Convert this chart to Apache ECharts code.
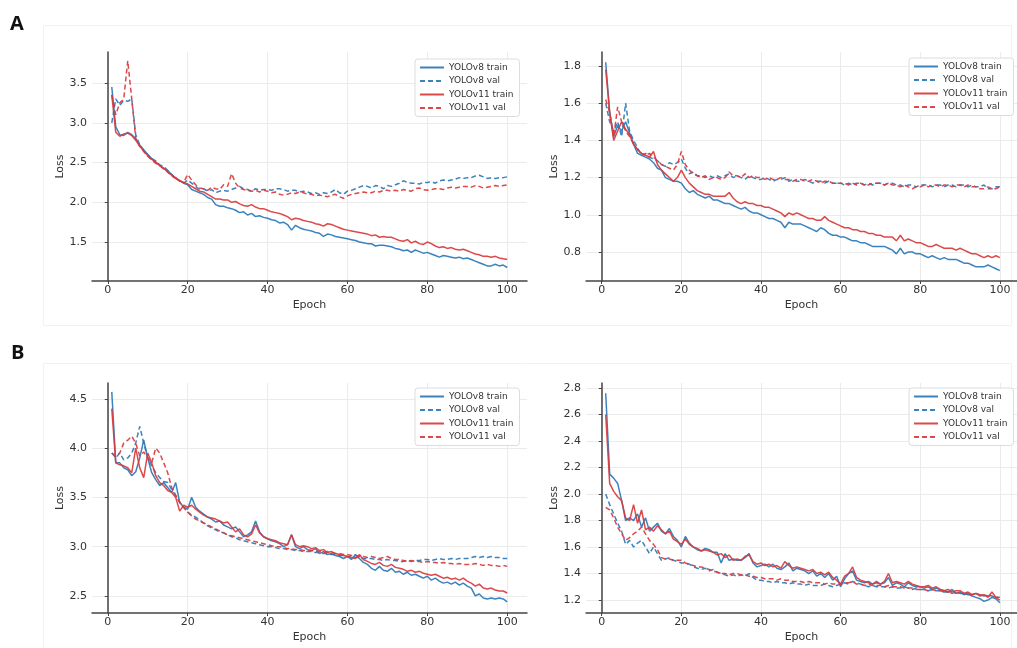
<!DOCTYPE html>
<html><head><meta charset="utf-8">
<script src="https://cdn.jsdelivr.net/npm/echarts@6/dist/echarts.min.js"></script>
<style>html,body{margin:0;padding:0;background:#fff}#c{width:1017px;height:648px}</style>
</head><body><div id="c"></div>
<script>
// ---------- data ----------
const epochs = Array.from({length: 100}, (_, i) => i + 1);
const seriesNames = ['YOLOv8 train', 'YOLOv8 val', 'YOLOv11 train', 'YOLOv11 val'];
const panelLabels = ['A', 'B'];
const xTickLabels = [0, 20, 40, 60, 80, 100];
const yTicksAL = [1.5, 2.0, 2.5, 3.0, 3.5];
const yTicksAR = [0.8, 1.0, 1.2, 1.4, 1.6, 1.8];
const yTicksBL = [2.5, 3.0, 3.5, 4.0, 4.5];
const yTicksBR = [1.2, 1.4, 1.6, 1.8, 2.0, 2.2, 2.4, 2.6, 2.8];

// Panel A, left
const aL_v8Train = [3.45,2.95,2.85,2.84,2.88,2.85,2.80,2.72,2.66,2.60,
2.55,2.50,2.47,2.42,2.40,2.35,2.30,2.27,2.24,2.22,
2.16,2.14,2.12,2.10,2.06,2.04,1.97,1.95,1.95,1.93,
1.92,1.90,1.87,1.88,1.84,1.86,1.82,1.83,1.81,1.80,
1.78,1.77,1.74,1.75,1.72,1.65,1.71,1.68,1.66,1.65,
1.64,1.62,1.61,1.57,1.60,1.59,1.57,1.56,1.55,1.54,
1.53,1.52,1.50,1.49,1.48,1.48,1.45,1.46,1.46,1.45,
1.44,1.42,1.41,1.39,1.40,1.37,1.40,1.38,1.36,1.37,
1.35,1.33,1.31,1.33,1.32,1.31,1.30,1.31,1.29,1.30,
1.28,1.26,1.24,1.22,1.20,1.20,1.22,1.20,1.21,1.18];
const aL_v8Val = [3.00,3.30,3.22,3.28,3.27,3.30,2.85,2.72,2.65,2.60,
2.55,2.52,2.47,2.45,2.40,2.35,2.30,2.27,2.24,2.28,
2.24,2.20,2.16,2.17,2.14,2.16,2.12,2.14,2.15,2.14,
2.16,2.18,2.20,2.17,2.16,2.14,2.17,2.15,2.16,2.16,
2.15,2.17,2.17,2.16,2.14,2.15,2.15,2.13,2.14,2.13,
2.11,2.12,2.10,2.12,2.11,2.13,2.16,2.12,2.10,2.14,
2.15,2.17,2.19,2.21,2.20,2.18,2.21,2.20,2.17,2.21,
2.20,2.22,2.24,2.27,2.25,2.24,2.24,2.23,2.25,2.25,
2.26,2.24,2.27,2.28,2.27,2.28,2.29,2.31,2.30,2.31,
2.31,2.33,2.34,2.32,2.30,2.31,2.30,2.31,2.31,2.32];
const aL_v11Train = [3.35,2.88,2.83,2.86,2.87,2.84,2.78,2.71,2.64,2.59,
2.54,2.51,2.46,2.43,2.38,2.34,2.31,2.27,2.25,2.23,
2.20,2.17,2.14,2.13,2.10,2.07,2.04,2.04,2.03,2.03,
2.00,2.01,1.98,1.96,1.95,1.97,1.94,1.92,1.92,1.90,
1.88,1.87,1.86,1.84,1.82,1.78,1.80,1.79,1.77,1.76,
1.75,1.73,1.72,1.70,1.73,1.72,1.70,1.68,1.66,1.65,
1.64,1.63,1.62,1.61,1.60,1.58,1.59,1.56,1.57,1.56,
1.56,1.54,1.52,1.51,1.53,1.49,1.51,1.48,1.47,1.50,
1.48,1.45,1.43,1.44,1.42,1.43,1.41,1.40,1.41,1.39,
1.37,1.35,1.34,1.32,1.32,1.31,1.32,1.30,1.29,1.28];
const aL_v11Val = [3.35,3.10,3.25,3.30,3.78,3.30,2.80,2.70,2.64,2.58,
2.53,2.49,2.46,2.42,2.38,2.33,2.30,2.27,2.25,2.35,
2.28,2.22,2.18,2.17,2.15,2.19,2.17,2.16,2.22,2.20,
2.36,2.24,2.18,2.16,2.15,2.14,2.15,2.13,2.15,2.14,
2.12,2.13,2.10,2.09,2.10,2.12,2.11,2.13,2.12,2.10,
2.10,2.08,2.09,2.08,2.07,2.09,2.10,2.07,2.05,2.08,
2.10,2.11,2.12,2.13,2.12,2.12,2.14,2.13,2.15,2.15,
2.14,2.15,2.14,2.16,2.15,2.14,2.17,2.18,2.16,2.15,
2.16,2.17,2.17,2.16,2.18,2.19,2.18,2.19,2.20,2.20,
2.19,2.21,2.20,2.18,2.19,2.20,2.21,2.20,2.21,2.22];

// Panel A, right
const aR_v8Train = [1.82,1.55,1.42,1.48,1.45,1.50,1.44,1.38,1.33,1.32,
1.31,1.30,1.28,1.25,1.24,1.20,1.19,1.18,1.18,1.17,
1.14,1.12,1.13,1.11,1.10,1.09,1.10,1.08,1.08,1.07,
1.06,1.06,1.05,1.04,1.03,1.04,1.02,1.01,1.01,1.00,
0.99,0.98,0.98,0.97,0.96,0.93,0.96,0.95,0.95,0.95,
0.94,0.93,0.92,0.91,0.93,0.92,0.90,0.89,0.89,0.88,
0.88,0.87,0.86,0.86,0.85,0.85,0.84,0.83,0.83,0.83,
0.83,0.82,0.81,0.79,0.82,0.79,0.80,0.80,0.79,0.79,
0.78,0.77,0.78,0.77,0.76,0.77,0.76,0.76,0.76,0.75,
0.74,0.74,0.73,0.72,0.72,0.72,0.73,0.72,0.71,0.70];
const aR_v8Val = [1.60,1.50,1.45,1.50,1.42,1.60,1.45,1.40,1.36,1.32,
1.33,1.31,1.30,1.29,1.27,1.26,1.28,1.27,1.28,1.30,
1.25,1.22,1.23,1.21,1.21,1.20,1.21,1.20,1.21,1.20,
1.21,1.22,1.20,1.21,1.20,1.19,1.21,1.20,1.19,1.19,
1.20,1.19,1.18,1.19,1.19,1.20,1.18,1.19,1.18,1.18,
1.19,1.18,1.17,1.18,1.18,1.17,1.18,1.17,1.17,1.17,
1.16,1.17,1.16,1.17,1.17,1.16,1.17,1.16,1.17,1.17,
1.16,1.17,1.17,1.16,1.16,1.15,1.16,1.16,1.15,1.16,
1.16,1.16,1.15,1.16,1.16,1.15,1.16,1.16,1.15,1.16,
1.16,1.15,1.16,1.15,1.15,1.16,1.14,1.14,1.15,1.15];
const aR_v11Train = [1.78,1.55,1.40,1.45,1.50,1.46,1.43,1.38,1.35,1.33,
1.32,1.31,1.34,1.27,1.24,1.22,1.20,1.18,1.20,1.24,
1.20,1.17,1.15,1.13,1.12,1.11,1.11,1.10,1.10,1.10,
1.10,1.12,1.09,1.07,1.06,1.07,1.06,1.06,1.05,1.05,
1.04,1.04,1.03,1.02,1.01,0.99,1.01,1.00,1.01,1.00,
0.99,0.98,0.98,0.97,0.97,0.99,0.97,0.96,0.95,0.94,
0.93,0.93,0.92,0.92,0.91,0.91,0.90,0.90,0.89,0.89,
0.88,0.88,0.88,0.86,0.89,0.86,0.87,0.86,0.85,0.85,
0.84,0.83,0.83,0.84,0.83,0.82,0.82,0.82,0.81,0.82,
0.81,0.80,0.79,0.79,0.78,0.77,0.78,0.77,0.78,0.77];
const aR_v11Val = [1.62,1.55,1.42,1.58,1.50,1.45,1.42,1.38,1.35,1.33,
1.32,1.33,1.31,1.29,1.27,1.26,1.25,1.24,1.27,1.34,
1.27,1.24,1.22,1.21,1.20,1.21,1.19,1.20,1.20,1.19,
1.20,1.23,1.21,1.21,1.20,1.22,1.20,1.21,1.20,1.20,
1.19,1.20,1.19,1.19,1.20,1.19,1.19,1.18,1.19,1.19,
1.18,1.18,1.19,1.18,1.17,1.18,1.18,1.17,1.17,1.17,
1.17,1.16,1.17,1.16,1.17,1.16,1.16,1.17,1.17,1.17,
1.16,1.17,1.16,1.16,1.15,1.16,1.15,1.14,1.15,1.15,
1.16,1.15,1.16,1.16,1.15,1.16,1.16,1.15,1.16,1.16,
1.15,1.16,1.15,1.15,1.14,1.14,1.15,1.14,1.14,1.15];

// Panel B, left
const bL_v8Train = [4.57,3.85,3.85,3.80,3.78,3.72,3.76,3.90,4.08,3.90,
3.75,3.68,3.62,3.65,3.60,3.55,3.65,3.45,3.40,3.38,
3.50,3.40,3.36,3.33,3.30,3.28,3.25,3.26,3.22,3.20,
3.18,3.20,3.15,3.10,3.12,3.15,3.26,3.15,3.10,3.08,
3.06,3.05,3.03,3.00,3.02,3.12,3.00,2.98,3.00,2.97,
2.96,2.98,2.93,2.95,2.92,2.93,2.91,2.90,2.88,2.90,
2.87,2.92,2.88,2.84,2.82,2.78,2.76,2.80,2.76,2.75,
2.78,2.74,2.75,2.72,2.74,2.71,2.72,2.70,2.68,2.70,
2.66,2.68,2.65,2.63,2.64,2.62,2.64,2.61,2.63,2.60,
2.58,2.50,2.52,2.48,2.47,2.48,2.47,2.48,2.47,2.44];
const bL_v8Val = [3.95,3.90,3.95,3.88,3.90,3.95,4.05,4.22,4.05,3.90,
3.82,3.75,3.70,3.66,3.65,3.58,3.52,3.45,3.40,3.35,
3.32,3.30,3.27,3.24,3.21,3.19,3.17,3.15,3.14,3.12,
3.10,3.09,3.07,3.06,3.05,3.04,3.03,3.02,3.01,3.00,
3.00,2.99,2.98,2.98,2.97,2.97,2.96,2.96,2.95,2.95,
2.95,2.94,2.94,2.93,2.93,2.92,2.92,2.91,2.91,2.90,
2.90,2.89,2.89,2.88,2.88,2.88,2.87,2.87,2.86,2.87,
2.86,2.86,2.85,2.85,2.86,2.85,2.86,2.86,2.87,2.87,
2.86,2.87,2.88,2.87,2.87,2.88,2.87,2.88,2.88,2.88,
2.89,2.90,2.89,2.90,2.89,2.90,2.89,2.89,2.88,2.88];
const bL_v11Train = [4.40,3.85,3.83,3.82,3.80,3.75,4.00,3.80,3.70,3.95,
3.85,3.72,3.65,3.62,3.57,3.55,3.50,3.36,3.42,3.40,
3.42,3.38,3.35,3.32,3.30,3.29,3.28,3.26,3.24,3.25,
3.20,3.15,3.18,3.12,3.10,3.13,3.22,3.14,3.10,3.08,
3.07,3.06,3.04,3.03,3.02,3.12,3.02,3.00,3.01,3.00,
2.98,2.99,2.96,2.97,2.94,2.95,2.93,2.92,2.91,2.90,
2.89,2.88,2.92,2.87,2.85,2.83,2.82,2.84,2.81,2.80,
2.82,2.79,2.78,2.77,2.75,2.76,2.74,2.75,2.73,2.72,
2.71,2.72,2.70,2.68,2.69,2.67,2.68,2.66,2.68,2.65,
2.63,2.60,2.62,2.58,2.57,2.58,2.56,2.55,2.55,2.53];
const bL_v11Val = [3.95,3.92,3.95,4.05,4.08,4.12,4.05,3.92,3.96,3.90,
3.85,4.00,3.95,3.85,3.75,3.60,3.52,3.45,3.40,3.35,
3.31,3.28,3.26,3.24,3.22,3.20,3.18,3.16,3.14,3.12,
3.11,3.10,3.09,3.08,3.07,3.06,3.05,3.04,3.03,3.02,
3.01,3.00,3.00,2.99,2.98,2.98,2.97,2.97,2.96,2.96,
2.96,2.95,2.95,2.94,2.95,2.94,2.93,2.93,2.92,2.92,
2.91,2.91,2.90,2.90,2.89,2.90,2.89,2.88,2.89,2.90,
2.88,2.87,2.87,2.86,2.85,2.86,2.85,2.85,2.84,2.85,
2.84,2.84,2.83,2.84,2.83,2.83,2.82,2.83,2.82,2.82,
2.82,2.83,2.82,2.81,2.82,2.81,2.81,2.80,2.81,2.80];

// Panel B, right
const bR_v8Train = [2.76,2.15,2.12,2.08,1.95,1.80,1.82,1.80,1.85,1.75,
1.82,1.72,1.75,1.78,1.72,1.70,1.74,1.68,1.65,1.60,
1.68,1.63,1.60,1.58,1.57,1.59,1.58,1.56,1.56,1.48,
1.55,1.50,1.51,1.50,1.50,1.52,1.55,1.48,1.45,1.46,
1.47,1.45,1.47,1.44,1.43,1.45,1.48,1.42,1.44,1.43,
1.42,1.40,1.42,1.38,1.40,1.37,1.40,1.35,1.38,1.30,
1.36,1.40,1.42,1.35,1.34,1.33,1.34,1.32,1.33,1.32,
1.33,1.37,1.31,1.33,1.32,1.30,1.33,1.31,1.30,1.30,
1.29,1.30,1.28,1.29,1.28,1.27,1.26,1.28,1.25,1.26,
1.24,1.25,1.23,1.22,1.21,1.19,1.20,1.22,1.21,1.18];
const bR_v8Val = [2.00,1.92,1.85,1.78,1.72,1.62,1.65,1.60,1.63,1.65,
1.60,1.55,1.60,1.55,1.50,1.51,1.52,1.50,1.49,1.48,
1.48,1.47,1.45,1.44,1.43,1.44,1.42,1.43,1.41,1.40,
1.39,1.38,1.39,1.38,1.39,1.38,1.40,1.37,1.35,1.35,
1.34,1.34,1.33,1.34,1.33,1.33,1.32,1.33,1.32,1.32,
1.31,1.32,1.31,1.31,1.31,1.32,1.31,1.30,1.31,1.32,
1.33,1.32,1.34,1.33,1.32,1.31,1.30,1.31,1.30,1.30,
1.30,1.29,1.30,1.29,1.29,1.30,1.29,1.28,1.29,1.28,
1.28,1.27,1.28,1.27,1.27,1.26,1.26,1.25,1.26,1.25,
1.25,1.24,1.24,1.25,1.24,1.23,1.24,1.23,1.22,1.22];
const bR_v11Train = [2.60,2.08,2.02,1.98,1.95,1.82,1.80,1.92,1.78,1.88,
1.73,1.75,1.72,1.76,1.73,1.70,1.72,1.66,1.64,1.62,
1.66,1.62,1.60,1.59,1.57,1.58,1.57,1.56,1.54,1.55,
1.52,1.54,1.50,1.51,1.50,1.53,1.54,1.49,1.47,1.48,
1.46,1.47,1.45,1.46,1.44,1.49,1.46,1.44,1.45,1.44,
1.43,1.42,1.43,1.40,1.41,1.39,1.41,1.37,1.35,1.32,
1.38,1.40,1.45,1.37,1.35,1.34,1.33,1.32,1.34,1.32,
1.34,1.40,1.33,1.34,1.33,1.32,1.34,1.32,1.31,1.30,
1.30,1.31,1.29,1.30,1.28,1.27,1.28,1.26,1.27,1.27,
1.25,1.26,1.24,1.25,1.23,1.24,1.22,1.26,1.22,1.20];
const bR_v11Val = [1.90,1.88,1.82,1.75,1.70,1.65,1.67,1.70,1.72,1.75,
1.70,1.65,1.62,1.58,1.52,1.51,1.51,1.50,1.50,1.50,
1.48,1.47,1.46,1.45,1.45,1.44,1.43,1.42,1.41,1.40,
1.40,1.39,1.40,1.40,1.39,1.39,1.38,1.38,1.37,1.37,
1.36,1.36,1.36,1.35,1.36,1.35,1.35,1.34,1.34,1.34,
1.33,1.34,1.33,1.33,1.33,1.32,1.33,1.32,1.32,1.32,
1.33,1.33,1.34,1.32,1.32,1.31,1.32,1.31,1.31,1.31,
1.30,1.31,1.30,1.30,1.30,1.29,1.29,1.29,1.28,1.28,
1.28,1.27,1.28,1.27,1.27,1.26,1.26,1.26,1.25,1.26,
1.25,1.25,1.24,1.25,1.24,1.24,1.23,1.23,1.22,1.22];

// ---------- chart ----------
const BLUE = '#2a78b9', RED = '#d93a3c';
const FONT = 'DejaVu Sans';
const panels = [
  {grid: {left: 92, top: 52, width: 435, height: 229}, y: [1.01, 3.89], split: 5, ticks: yTicksAL, xmax: 104.95,
   data: [aL_v8Train, aL_v8Val, aL_v11Train, aL_v11Val], legend: {left: 415, top: 59}},
  {grid: {left: 586, top: 52, width: 431, height: 229}, y: [0.644, 1.875], split: 6, ticks: yTicksAR, xmax: 104.3,
   data: [aR_v8Train, aR_v8Val, aR_v11Train, aR_v11Val], legend: {left: 909, top: 58}},
  {grid: {left: 92, top: 383, width: 435, height: 230}, y: [2.327, 4.66], split: 5, ticks: yTicksBL, xmax: 104.95,
   data: [bL_v8Train, bL_v8Val, bL_v11Train, bL_v11Val], legend: {left: 415, top: 388}},
  {grid: {left: 586, top: 383, width: 431, height: 230}, y: [1.102, 2.838], split: 8, ticks: yTicksBR, xmax: 104.3,
   data: [bR_v8Train, bR_v8Val, bR_v11Train, bR_v11Val], legend: {left: 909, top: 388}}
];
const colors = [BLUE, BLUE, RED, RED];
const dashes = ['solid', [5, 3], 'solid', [5, 3]];

const option = {
  backgroundColor: '#fff',
  animation: false,
  textStyle: {fontFamily: FONT},
  grid: panels.map(p => p.grid),
  xAxis: panels.map((p, i) => ({
    type: 'value', gridIndex: i, min: -3.95, max: p.xmax, splitNumber: 5,
    name: 'Epoch', nameLocation: 'middle', nameGap: 19,
    nameTextStyle: {fontSize: 11, color: '#333', fontFamily: FONT},
    axisLine: {show: true, lineStyle: {color: '#444', width: 1.5}},
    axisTick: {show: true, length: 3, lineStyle: {color: '#444'}},
    axisLabel: {fontSize: 11, color: '#333', margin: 4, showMinLabel: false, showMaxLabel: false,
      formatter: v => xTickLabels.includes(Math.round(v)) && Math.abs(v - Math.round(v)) < 1e-6 ? String(Math.round(v)) : ''},
    splitLine: {show: true, showMinLine: false, showMaxLine: false, lineStyle: {color: '#ebebeb', width: 1}}
  })),
  yAxis: panels.map((p, i) => ({
    type: 'value', gridIndex: i, min: p.y[0], max: p.y[1], splitNumber: p.split,
    name: 'Loss', nameLocation: 'middle', nameGap: 24, nameRotate: 90,
    nameTextStyle: {fontSize: 11, color: '#333', fontFamily: FONT},
    axisLine: {show: true, lineStyle: {color: '#444', width: 1.5}},
    axisTick: {show: true, length: 3, lineStyle: {color: '#444'}},
    axisLabel: {fontSize: 11, color: '#333', margin: 5, showMinLabel: false, showMaxLabel: false,
      formatter: v => { const t = p.ticks.find(k => Math.abs(k - v) < 1e-6); return t === undefined ? '' : t.toFixed(1); }},
    splitLine: {show: true, showMinLine: false, showMaxLine: false, lineStyle: {color: '#ebebeb', width: 1}}
  })),
  legend: panels.map(p => ({
    data: seriesNames, orient: 'vertical', left: p.legend.left, top: p.legend.top,
    itemWidth: 24, itemHeight: 10, itemGap: 4.5, padding: [4, 6, 4, 4],
    backgroundColor: '#fff', borderColor: '#dcdcdc', borderWidth: 1, borderRadius: 3,
    textStyle: {fontSize: 9, color: '#333', fontFamily: FONT},
    itemStyle: {opacity: 0},
    selectedMode: false
  })),
  graphic: [
    {type: 'rect', shape: {x: 43.5, y: 25.5, width: 968, height: 300}, style: {fill: 'none', stroke: '#f2f2f2', lineWidth: 1}, z: -1},
    {type: 'rect', shape: {x: 43.5, y: 363.5, width: 968, height: 290}, style: {fill: 'none', stroke: '#f2f2f2', lineWidth: 1}, z: -1},
    {type: 'text', left: 10, top: 14, style: {text: panelLabels[0], font: 'bold 20px "Open Sans", "DejaVu Sans", sans-serif', fill: '#111'}},
    {type: 'text', left: 11, top: 343, style: {text: panelLabels[1], font: 'bold 20px "Open Sans", "DejaVu Sans", sans-serif', fill: '#111'}}
  ],
  series: []
};

panels.forEach((p, gi) => {
  p.data.forEach((arr, si) => {
    option.series.push({
      type: 'line', name: seriesNames[si], xAxisIndex: gi, yAxisIndex: gi,
      data: arr.map((v, k) => [epochs[k], v]),
      showSymbol: false, symbol: 'none',
      lineStyle: {color: colors[si], width: 1.5, type: dashes[si], opacity: 0.92},
      itemStyle: {color: colors[si]},
      emphasis: {disabled: true}
    });
  });
});

const chart = echarts.init(document.getElementById('c'), null, {renderer: 'canvas'});
chart.setOption(option);
</script>
</body></html>
